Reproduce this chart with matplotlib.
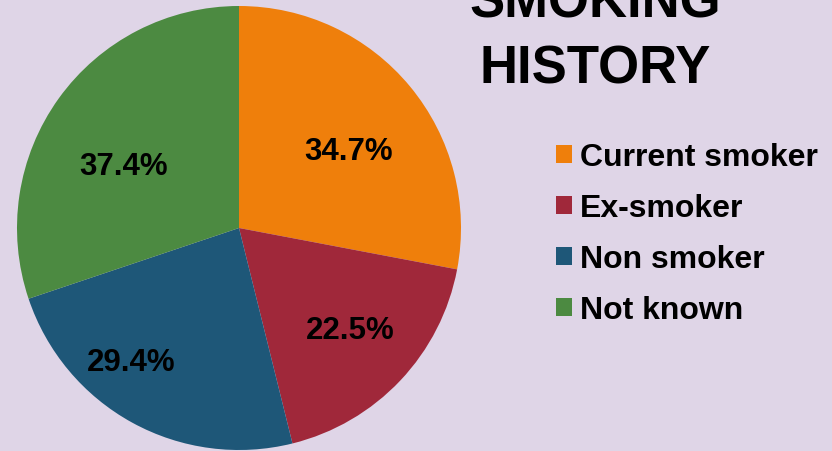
import matplotlib
matplotlib.use("Agg")
import matplotlib.pyplot as plt
from matplotlib.patches import Patch

# Smoking history breakdown
categories = ["Current smoker", "Ex-smoker", "Non smoker", "Not known"]
values = [34.7, 22.5, 29.4, 37.4]
colors = ["#EF7F0B", "#A0283A", "#1E5778", "#4C8A41"]
title_lines = ["SMOKING", "HISTORY"]

# label anchor points inside each wedge (data units, radius = 1)
label_pos = [(0.495, 0.347), (0.50, -0.46), (-0.486, -0.605), (-0.518, 0.279)]

bg = "#DFD5E7"
W, H = 832, 452
fig = plt.figure(figsize=(W / 100, H / 100), dpi=100, facecolor=bg)
plt.rcParams["font.family"] = ["Liberation Sans", "DejaVu Sans"]

# pie axes: centre (239, 229) px, radius 222 px
r_px = 222
cx, cy = 239, H - 229
ax = fig.add_axes([(cx - r_px) / W, (cy - r_px) / H, 2 * r_px / W, 2 * r_px / H])
ax.set_facecolor(bg)
wedges, _ = ax.pie(values, colors=colors, startangle=90, counterclock=False,
                   radius=1.0, wedgeprops=dict(linewidth=0))
ax.set_xlim(-1, 1)
ax.set_ylim(-1, 1)
ax.set_aspect("equal")
ax.axis("off")

for v, (x, y) in zip(values, label_pos):
    ax.text(x, y, f"{v}%", ha="center", va="center", fontsize=22.5,
            fontweight="bold", color="black")

# title, two lines
fig.text(595 / W, 1 - 17 / H, title_lines[0], ha="center", va="baseline",
         fontsize=38, fontweight="bold", color="black")
fig.text(595 / W, 1 - 84 / H, title_lines[1], ha="center", va="baseline",
         fontsize=38, fontweight="bold", color="black")

handles = [Patch(facecolor=c, edgecolor="none") for c in colors]
fig.legend(handles, categories, loc="upper left",
           bbox_to_anchor=(556 / W, 1 - 143 / H), frameon=False,
           prop=dict(weight="bold", size=23),
           handlelength=0.5, handleheight=0.5, handletextpad=0.25,
           labelspacing=0.66, borderpad=0, borderaxespad=0)

fig.savefig("out.png", dpi=100, facecolor=bg)
